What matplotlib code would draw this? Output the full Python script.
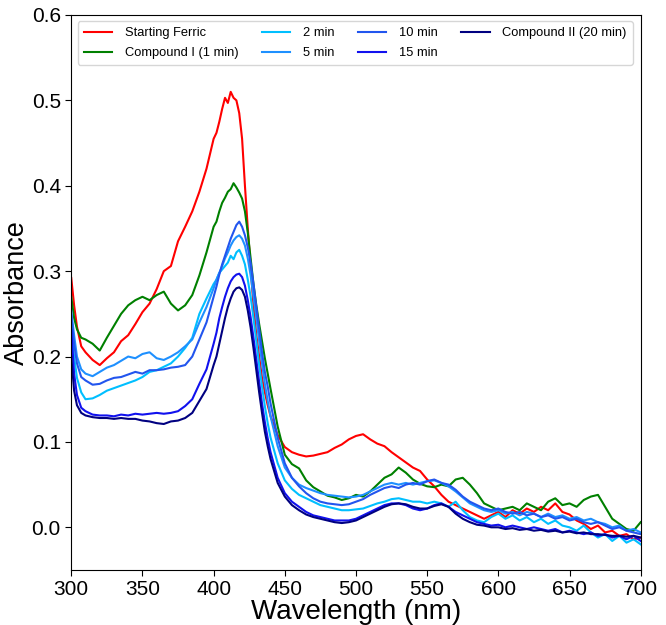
import matplotlib
matplotlib.use("Agg")
import matplotlib.pyplot as plt

plt.rcParams['font.family'] = ['Liberation Sans', 'DejaVu Sans']

# wavelength grid (nm)
wavelength = ([300, 302, 304, 307, 310]
              + list(range(315, 400, 5))
              + list(range(400, 442, 2))
              + list(range(445, 705, 5)))

# 吸光度数据
ferric = [0.292, 0.26, 0.235, 0.212, 0.205,
          0.196, 0.19, 0.198, 0.205, 0.218, 0.225, 0.238, 0.252, 0.262, 0.279, 0.30, 0.306, 0.335, 0.352, 0.37, 0.393, 0.42,
          0.455, 0.462, 0.475, 0.49, 0.503, 0.497, 0.51, 0.503, 0.50, 0.485, 0.455, 0.40, 0.35, 0.305, 0.26, 0.225, 0.2, 0.175, 0.158, 0.143, 0.13,
          0.108, 0.094, 0.088, 0.085, 0.083, 0.084, 0.086, 0.088, 0.093, 0.097, 0.103, 0.107, 0.109, 0.103, 0.098, 0.095, 0.088, 0.082, 0.076, 0.07,
          0.066, 0.056, 0.048, 0.038, 0.03, 0.026, 0.022, 0.018, 0.014, 0.01, 0.014, 0.018, 0.012, 0.02, 0.016, 0.022, 0.018, 0.024, 0.02, 0.028,
          0.018, 0.015, 0.008, 0.004, -0.002, 0.002, -0.006, -0.004, -0.01, -0.008, -0.014, -0.012]

compound_1 = [0.27, 0.245, 0.232, 0.222, 0.22,
              0.215, 0.207, 0.222, 0.236, 0.25, 0.26, 0.266, 0.27, 0.266, 0.272, 0.276, 0.262, 0.254, 0.26, 0.272, 0.295, 0.322,
              0.352, 0.358, 0.37, 0.38, 0.386, 0.393, 0.396, 0.403, 0.398, 0.392, 0.385, 0.37, 0.345, 0.315, 0.285, 0.26, 0.238, 0.218, 0.198, 0.18, 0.162,
              0.118, 0.085, 0.074, 0.069, 0.055, 0.047, 0.042, 0.037, 0.035, 0.032, 0.034, 0.038, 0.036, 0.042, 0.05, 0.058, 0.062, 0.07, 0.064, 0.056,
              0.051, 0.048, 0.047, 0.05, 0.048, 0.056, 0.058, 0.05, 0.04, 0.028, 0.024, 0.02, 0.022, 0.024, 0.02, 0.028, 0.024, 0.02, 0.03, 0.034,
              0.026, 0.028, 0.024, 0.032, 0.036, 0.038, 0.024, 0.01, 0.004, -0.002, -0.004, 0.006]

min_2 = [0.23, 0.2, 0.175, 0.158, 0.15,
         0.151, 0.155, 0.16, 0.163, 0.166, 0.169, 0.172, 0.176, 0.182, 0.184, 0.188, 0.192, 0.2, 0.21, 0.222, 0.25, 0.268,
         0.285, 0.29, 0.298, 0.302, 0.306, 0.31, 0.318, 0.314, 0.322, 0.325, 0.318, 0.308, 0.29, 0.27, 0.245, 0.218, 0.19, 0.165, 0.142, 0.122, 0.105,
         0.075, 0.055, 0.045, 0.038, 0.034, 0.03, 0.026, 0.024, 0.022, 0.02, 0.02, 0.021, 0.022, 0.025, 0.028, 0.03, 0.033, 0.034, 0.032, 0.03,
         0.03, 0.028, 0.03, 0.028, 0.024, 0.03, 0.02, 0.012, 0.008, 0.006, 0.012, 0.016, 0.01, 0.014, 0.008, 0.012, 0.006, 0.01, 0.004, 0.008,
         0.002, 0.0, -0.004, 0.002, -0.006, -0.012, -0.008, -0.016, -0.01, -0.018, -0.014, -0.02]

min_5 = [0.254, 0.225, 0.2, 0.185, 0.18,
         0.177, 0.182, 0.187, 0.19, 0.195, 0.2, 0.198, 0.203, 0.205, 0.198, 0.196, 0.2, 0.205, 0.212, 0.22, 0.24, 0.258,
         0.28, 0.29, 0.298, 0.306, 0.315, 0.322, 0.33, 0.336, 0.34, 0.342, 0.338, 0.33, 0.315, 0.295, 0.27, 0.245, 0.218, 0.192, 0.168, 0.148, 0.13,
         0.095, 0.07, 0.058, 0.05, 0.046, 0.043, 0.04, 0.038, 0.037, 0.036, 0.035, 0.036, 0.038, 0.042, 0.046, 0.05, 0.052, 0.05, 0.052, 0.05,
         0.052, 0.054, 0.055, 0.052, 0.048, 0.042, 0.035, 0.028, 0.024, 0.02, 0.018, 0.02, 0.016, 0.018, 0.014, 0.018, 0.016, 0.012, 0.016, 0.012,
         0.014, 0.01, 0.012, 0.008, 0.01, 0.006, 0.004, 0.0, 0.002, -0.004, -0.002, -0.006]

min_10 = [0.248, 0.215, 0.192, 0.176, 0.172,
          0.167, 0.168, 0.172, 0.175, 0.176, 0.179, 0.182, 0.18, 0.184, 0.184, 0.185, 0.187, 0.188, 0.19, 0.2, 0.22, 0.24,
          0.27, 0.282, 0.296, 0.308, 0.318, 0.328, 0.338, 0.346, 0.354, 0.358, 0.352, 0.342, 0.328, 0.31, 0.285, 0.258, 0.232, 0.205, 0.182, 0.165, 0.145,
          0.105, 0.075, 0.058, 0.048, 0.04, 0.034, 0.03, 0.028, 0.027, 0.026, 0.027, 0.03, 0.033, 0.038, 0.042, 0.046, 0.048, 0.046, 0.05, 0.052,
          0.05, 0.054, 0.056, 0.052, 0.05, 0.044, 0.036, 0.03, 0.026, 0.022, 0.02, 0.022, 0.018, 0.016, 0.018, 0.014, 0.016, 0.012, 0.014, 0.01,
          0.012, 0.008, 0.01, 0.006, 0.004, 0.006, 0.002, -0.002, 0.0, -0.004, -0.006, -0.008]

min_15 = [0.231, 0.18, 0.155, 0.14, 0.136,
          0.132, 0.131, 0.131, 0.13, 0.132, 0.131, 0.133, 0.132, 0.133, 0.134, 0.133, 0.134, 0.136, 0.142, 0.15, 0.168, 0.185,
          0.215, 0.228, 0.245, 0.258, 0.27, 0.28, 0.288, 0.293, 0.296, 0.297, 0.293, 0.283, 0.266, 0.246, 0.222, 0.196, 0.17, 0.145, 0.123, 0.104, 0.088,
          0.058, 0.04, 0.03, 0.024, 0.018, 0.014, 0.012, 0.01, 0.008, 0.008, 0.008, 0.01, 0.014, 0.018, 0.022, 0.026, 0.028, 0.028, 0.026, 0.022,
          0.02, 0.022, 0.026, 0.028, 0.024, 0.018, 0.014, 0.01, 0.006, 0.004, 0.002, 0.003, 0.0, 0.002, 0.0, -0.002, 0.0, -0.002, -0.004, -0.002,
          -0.006, -0.004, -0.006, -0.008, -0.006, -0.01, -0.008, -0.012, -0.01, -0.014, -0.01, -0.016]

compound_2 = [0.2, 0.16, 0.143, 0.134, 0.131,
              0.129, 0.128, 0.128, 0.127, 0.128, 0.127, 0.127, 0.125, 0.124, 0.122, 0.121, 0.124, 0.125, 0.128, 0.134, 0.148, 0.162,
              0.19, 0.2, 0.215, 0.23, 0.245, 0.258, 0.268, 0.276, 0.28, 0.281, 0.278, 0.27, 0.254, 0.234, 0.21, 0.184, 0.158, 0.134, 0.112, 0.095, 0.08,
              0.052, 0.036, 0.026, 0.02, 0.015, 0.012, 0.01, 0.008, 0.006, 0.005, 0.006, 0.008, 0.012, 0.016, 0.02, 0.024, 0.027, 0.028, 0.027, 0.024,
              0.022, 0.022, 0.025, 0.027, 0.024, 0.016, 0.01, 0.006, 0.003, 0.002, 0.0, 0.0, -0.002, -0.001, -0.003, -0.002, -0.004, -0.003, -0.005, -0.004,
              -0.006, -0.005, -0.007, -0.006, -0.008, -0.008, -0.009, -0.01, -0.01, -0.011, -0.01, -0.012]

series = [
    ('Starting Ferric', ferric, '#FF0000'),
    ('Compound I (1 min)', compound_1, '#008000'),
    ('2 min', min_2, '#00BFFF'),
    ('5 min', min_5, '#1E90FF'),
    ('10 min', min_10, '#2255EE'),
    ('15 min', min_15, '#1111EE'),
    ('Compound II (20 min)', compound_2, '#000080'),
]

fig = plt.figure(figsize=(6.66, 6.25), dpi=100)
ax = fig.add_axes([0.107, 0.088, 0.855, 0.888])

for label, values, color in series:
    ax.plot(wavelength, values, color=color, linewidth=1.5, label=label)

ax.set_xlim(300, 700)
ax.set_ylim(-0.05, 0.6)
ax.set_xticks(range(300, 701, 50))
ax.set_yticks([0.0, 0.1, 0.2, 0.3, 0.4, 0.5, 0.6])
ax.tick_params(labelsize=15, direction='out', length=4)
ax.set_xlabel('Wavelength (nm)', fontsize=20, labelpad=0)
ax.set_ylabel('Absorbance', fontsize=19.5, labelpad=1)

ax.legend(loc='upper left', ncol=4, fontsize=9.3, frameon=True,
          handlelength=2.2, handletextpad=1.0, columnspacing=1.8,
          labelspacing=0.6, borderpad=0.45, borderaxespad=0.5)

plt.savefig('out.png', dpi=100)
plt.close()
